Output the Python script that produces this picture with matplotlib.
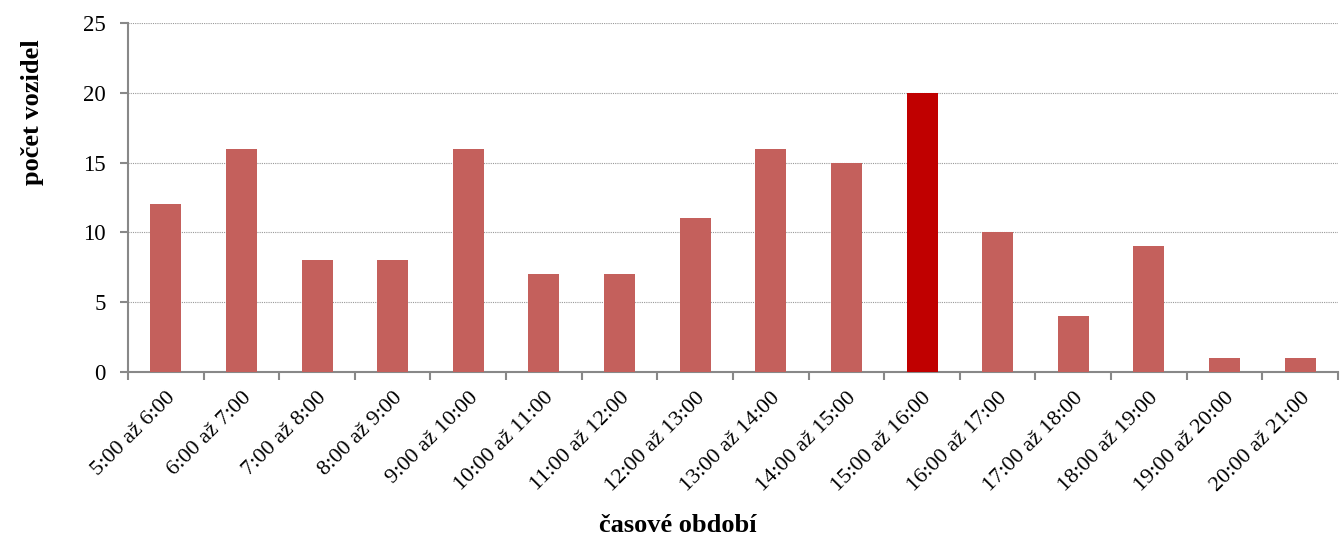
import numpy as np
import matplotlib.pyplot as plt
from matplotlib.ticker import FixedLocator

plt.rcParams['font.family'] = ['Liberation Serif', 'DejaVu Serif']

# time periods and vehicle counts
periods = ['5:00 až 6:00', '6:00 až 7:00', '7:00 až 8:00', '8:00 až 9:00',
           '9:00 až 10:00', '10:00 až 11:00', '11:00 až 12:00', '12:00 až 13:00',
           '13:00 až 14:00', '14:00 až 15:00', '15:00 až 16:00', '16:00 až 17:00',
           '17:00 až 18:00', '18:00 až 19:00', '19:00 až 20:00', '20:00 až 21:00']
counts = [12, 16, 8, 8, 16, 7, 7, 11, 16, 15, 20, 10, 4, 9, 1, 1]

x = np.arange(len(periods))
peak = int(np.argmax(counts))
colors = ['#C4605C' for c in counts]
colors[peak] = '#C00000'

fig = plt.figure(figsize=(13.4, 5.36), dpi=100)
ax = fig.add_axes([0.0955, 0.306, 0.903, 0.651])

ax.bar(x, counts, width=0.41, color=colors, zorder=3)

ax.set_xlim(-0.5, len(periods) - 0.5)
ax.set_ylim(0, 25)
ax.set_yticks(range(0, 26, 5))
ax.grid(axis='y', color='#999999', linestyle=(0, (1, 1)), linewidth=0.8, zorder=0)

# category labels at centres, tick marks at boundaries
ax.set_xticks(x)
ax.set_xticklabels(periods, rotation=45, ha='right', rotation_mode='anchor', fontsize=16)
ax.tick_params(axis='x', which='major', length=0, pad=12)
ax.xaxis.set_minor_locator(FixedLocator(np.arange(-0.5, len(periods), 1)))
ax.tick_params(axis='x', which='minor', length=6, width=1.5, color='#888888')
ax.tick_params(axis='y', length=6, width=1.5, color='#888888', labelsize=16.5, pad=10)

for s in ['top', 'right']:
    ax.spines[s].set_visible(False)
for s in ['left', 'bottom']:
    ax.spines[s].set_color('#888888')
    ax.spines[s].set_linewidth(1.5)

fig.text(0.0246, 0.791, 'počet vozidel', rotation=90, ha='center', va='center',
         fontsize=19, fontweight='bold')
fig.text(0.506, 0.007, 'časové období', ha='center', va='baseline',
         fontsize=19, fontweight='bold')

plt.savefig('out.png', dpi=100)
